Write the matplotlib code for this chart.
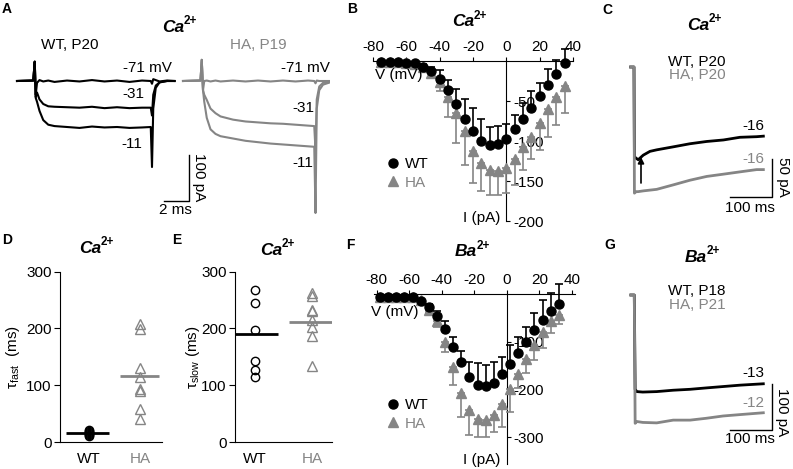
import matplotlib
matplotlib.use('Agg')
import matplotlib.pyplot as plt
from matplotlib.lines import Line2D
import numpy as np

plt.rcParams['font.family'] = ['Liberation Sans', 'DejaVu Sans']
plt.rcParams['axes.unicode_minus'] = False
plt.rcParams['mathtext.fontset'] = 'custom'
plt.rcParams['mathtext.rm'] = 'Liberation Sans'
plt.rcParams['mathtext.it'] = 'Liberation Sans:italic'
plt.rcParams['mathtext.bf'] = 'Liberation Sans:bold'

# ---------------- data ----------------
# Panel A: example Ca2+ current traces (ms, pA)
a_wt_t = [0, 1.3, 1.42, 1.5, 1.6, 1.8, 2.1, 2.5, 3.0, 4, 5, 6, 7, 8, 9, 10, 10.7, 10.8, 10.9, 11.1, 11.4, 12, 12.6]
a_wt_m71 = [0, 1, 42, -30, -4, 2, -1, 1, -2, 1, -1, 2, -1, 1, -2, 1, 0, -6, 4, 2, -1, 1, 0]
a_wt_m31 = [0, 1, 42, -35, -25, -40, -50, -55, -56, -57, -58, -56, -59, -57, -59, -58, -58, -75, -30, -10, -3, 0, 0]
a_wt_m11 = [0, 1, 42, -37, -45, -65, -85, -95, -98, -100, -102, -99, -101, -100, -102, -101, -100, -187, -60, -15, -3, 0, 0]
a_ha_t = [0, 1.4, 1.5, 1.6, 1.7, 1.9, 2.2, 2.6, 3.0, 4, 5, 6, 7, 8, 9, 10, 10.5, 10.6, 10.7, 10.9, 11.2, 11.76]
a_ha_m71 = [0, 1, 46, -20, 0, 1, -1, 1, -1, 1, -1, 1, -1, 1, -1, 1, 0, -5, 1, 0, 0, 0]
a_ha_m31 = [0, 1, 46, -20, -30, -41, -60, -70, -77, -84, -88, -90, -92, -93, -95, -97, -98, -150, -40, -12, -4, -2]
a_ha_m11 = [0, 1, 46, -20, -45, -80, -105, -115, -120, -125, -130, -133, -136, -138, -140, -142, -143, -287, -60, -20, -8, -3]

# Panel B: Ca2+ I-V
iv_ca_v = [-75, -70, -65, -60, -55, -50, -45, -40, -35, -30, -25, -20, -15, -10, -5, 0, 5, 10, 15, 20, 25, 30, 35]
iv_ca_wt = [-1, -1, -1, -2, -3, -7, -13, -22, -36, -54, -72, -87, -100, -105, -104, -98, -85, -72, -59, -44, -30, -16, -3]
iv_ca_wt_err = [0, 0, 0, 1, 2, 3, 6, 11, 12, 19, 24, 28, 27, 22, 23, 19, 18, 19, 21, 17, 20, 17, 18]
iv_ca_ha = [-1, -1, -1, -2, -4, -8, -15, -26, -45, -65, -88, -113, -128, -136, -138, -134, -122, -107, -95, -77, -60, -45, -31]
iv_ca_ha_err = [0, 0, 0, 1, 2, 3, 5, 11, 25, 38, 42, 40, 35, 32, 30, 31, 33, 29, 27, 34, 35, 35, 34]

# Panel C: long Ca2+ traces (ms, pA)
c_t = [-8, 0, 1, 5, 10, 22, 38, 54, 94, 133, 173, 213, 252, 292, 308]
c_wt = [0, 0, -118, -120, -122, -116, -111, -109, -105, -101, -98, -96, -92.5, -91.7, -91]
c_ha = [0, 0, -166, -164, -164, -163, -162, -161, -155, -149, -144, -141, -138, -135, -135]

# Panels D, E: time constants (ms)
groups = ['WT', 'HA']
tau_fast_wt = [11, 13, 14, 16, 18, 20, 22]
tau_fast_ha = [207, 199, 130, 114, 93, 89, 59, 40]
tau_fast_mean = [16, 116]
tau_slow_wt = [268, 244, 197, 143, 127, 115]
tau_slow_ha = [263, 257, 233, 230, 215, 203, 187, 134]
tau_slow_mean = [191, 212]

# Panel F: Ba2+ I-V
iv_ba_v = [-78, -73, -68, -63, -58, -53, -48, -43, -38, -33, -28, -23, -18, -13, -8, -3, 2, 7, 12, 17, 22, 27, 32]
iv_ba_wt = [-6, -6, -6, -6, -6, -14, -26, -45, -73, -110, -143, -173, -190, -192, -185, -168, -146, -124, -99, -75, -54, -36, -20]
iv_ba_wt_err = [0, 0, 0, 0, 0, 2, 5, 10, 16, 21, 25, 30, 45, 44, 42, 37, 40, 34, 31, 36, 42, 39, 42]
iv_ba_ha = [-6, -6, -6, -6, -6, -12, -33, -55, -99, -152, -206, -243, -262, -264, -253, -229, -199, -168, -136, -106, -80, -55, -43]
iv_ba_ha_err = [0, 0, 0, 0, 0, 2, 4, 13, 23, 38, 51, 52, 37, 35, 35, 49, 47, 29, 30, 32, 33, 27, 19]

# Panel G: long Ba2+ traces (ms, pA)
g_t = [-8, 0, 2, 6, 20, 53, 92, 132, 170, 210, 250, 305]
g_wt = [0, 0, -205, -210, -211, -210, -207, -205, -202, -199, -196, -193]
g_ha = [0, 0, -279, -275, -277, -278, -272, -272, -268, -263, -260, -256]

# ---------------- figure ----------------
W, H = 793, 469
GRAY = '#858585'
FS = 11
TFS = 12.5
fig = plt.figure(figsize=(W / 100, H / 100), dpi=100)


def px_axes(x0, y0, x1, y1):
    return fig.add_axes([x0 / W, 1 - y1 / H, (x1 - x0) / W, (y1 - y0) / H])


def ftext(x, y, s, **kw):
    kw.setdefault('ha', 'center')
    kw.setdefault('va', 'center')
    kw.setdefault('fontsize', FS)
    return fig.text(x / W, 1 - y / H, s, **kw)


def ion_title(x, y, ion):
    ftext(x + 4, y, ion, ha='right', fontsize=TFS, fontweight='bold', style='italic')
    ftext(x + 4, y - 6, '2+', ha='left', fontsize=8.5, fontweight='bold')


def trace_axes(x0, y0, x1, y1, t0px, ppms, i0px, pppa):
    ax = px_axes(x0, y0, x1, y1)
    ax.set_xlim((x0 - t0px) / ppms, (x1 - t0px) / ppms)
    ax.set_ylim((i0px - y1) / pppa, (i0px - y0) / pppa)
    ax.axis('off')
    return ax


# panel letters
for s, (x, y) in {'A': (7, 9), 'B': (352, 9), 'C': (607, 10), 'D': (7, 240),
                  'E': (177, 240), 'F': (350, 245), 'G': (610, 245)}.items():
    ftext(x, y, s, fontweight='bold', fontsize=10)

# ---------- Panel A ----------
axA = trace_axes(0, 50, 330, 222, 17, 12.5, 81, 0.46)
HA_OFFSET = (183 - 17) / 12.5
for tr in (a_wt_m71, a_wt_m31, a_wt_m11):
    axA.plot(a_wt_t, tr, color='k', lw=1.5)
for tr in (a_ha_m71, a_ha_m31, a_ha_m11):
    axA.plot(np.array(a_ha_t) + HA_OFFSET, tr, color=GRAY, lw=1.5)
sx = (189 - 17) / 12.5
sy = (81 - 201) / 0.46
axA.plot([sx - 2, sx, sx], [sy, sy, sy + 100], color='k', lw=1)
ion_title(180, 27, 'Ca')
ftext(70, 45, 'WT, P20')
ftext(258, 45, 'HA, P19', color=GRAY)
ftext(147, 68, '-71 mV')
ftext(133, 94, '-31')
ftext(132, 144, '-11')
ftext(305, 68, '-71 mV')
ftext(303, 108, '-31')
ftext(303, 163, '-11')
ftext(199, 177, '100 pA', rotation=-90)
ftext(175, 210, '2 ms')


# ---------- I-V panels ----------
def iv_panel(box, xlim, ylim, yticks, v, wt, wterr, ha, haerr, ion, tpos, vpos, ipos, legpos):
    ax = px_axes(*box)
    ax.set_xlim(*xlim)
    ax.set_ylim(*ylim)
    ax.spines['left'].set_visible(False)
    ax.spines['bottom'].set_visible(False)
    ax.spines['right'].set_position(('data', 0))
    ax.xaxis.tick_top()
    ax.yaxis.tick_right()
    ax.set_xticks([-80, -60, -40, -20, 0, 20, 40])
    ax.set_yticks(yticks)
    ax.tick_params(direction='out', length=3, labelsize=FS, pad=2)
    ax.tick_params(axis='x', pad=2)
    ax.patch.set_alpha(0)
    z = np.zeros(len(v))
    c1 = ax.errorbar(v, ha, yerr=[haerr, z], fmt='^', color=GRAY, ms=7, capsize=3,
                     elinewidth=1.2, capthick=1.2, zorder=5)
    c2 = ax.errorbar(v, wt, yerr=[z, wterr], fmt='o', color='k', ms=6.5, capsize=3,
                     elinewidth=1.2, capthick=1.2, zorder=6)
    for c in (c1, c2):
        for a in c.get_children():
            a.set_clip_on(False)
    ion_title(tpos[0], tpos[1], ion)
    ftext(*vpos, 'V (mV)')
    ftext(*ipos, 'I (pA)')
    handles = [Line2D([], [], marker='o', color='k', ls='none', ms=6.5),
               Line2D([], [], marker='^', color=GRAY, ls='none', ms=7)]
    ax.legend(handles, groups, frameon=False, loc='upper left',
              bbox_to_anchor=(legpos[0] / W, 1 - legpos[1] / H), bbox_transform=fig.transFigure,
              handletextpad=0.3, labelspacing=0.3, fontsize=FS, labelcolor=['k', GRAY],
              handlelength=1.0, borderpad=0, borderaxespad=0)
    return ax


iv_panel((373, 61, 573, 221), (-80, 40), (-200, 0), [-200, -150, -100, -50],
         iv_ca_v, iv_ca_wt, iv_ca_wt_err, iv_ca_ha, iv_ca_ha_err,
         'Ca', (470, 22), (399, 75), (482, 218), (385, 157))
iv_panel((373.5, 294.3, 575, 463.6), (-82, 42), (-355, 0), [-300, -200, -100],
         iv_ba_v, iv_ba_wt, iv_ba_wt_err, iv_ba_ha, iv_ba_ha_err,
         'Ba', (473, 252), (395, 312), (482, 460), (385, 398))

# ---------- Panel C ----------
axC = trace_axes(600, 50, 793, 215, 634, 0.42, 67, 0.76)
axC.plot(c_t, c_wt, color='k', lw=2)
axC.plot(c_t, c_ha, color=GRAY, lw=2)
axC.annotate('', xy=((641 - 634) / 0.42, (67 - 157) / 0.76), xytext=((641 - 634) / 0.42, (67 - 183) / 0.76),
             arrowprops=dict(arrowstyle='-|>', color='k', lw=1.2, mutation_scale=9, shrinkA=0, shrinkB=0))
sx = (772 - 634) / 0.42
sy = (67 - 197) / 0.76
axC.plot([sx - 100, sx, sx], [sy, sy, sy + 50], color='k', lw=1)
ion_title(705, 25, 'Ca')
ftext(697, 62, 'WT, P20')
ftext(697, 75, 'HA, P20', color=GRAY)
ftext(753, 126, '-16')
ftext(753, 159, '-16', color=GRAY)
ftext(783, 177, '50 pA', rotation=-90)
ftext(750, 208, '100 ms')


# ---------- Panels D, E ----------
def scatter_panel(box, xlim, wt, ha, means, ylabel, ylpos, tpos):
    ax = px_axes(*box)
    ax.set_xlim(*xlim)
    ax.set_ylim(0, 300)
    ax.spines['top'].set_visible(False)
    ax.spines['right'].set_visible(False)
    ax.set_yticks([0, 100, 200, 300])
    ax.set_xticks([0, 1])
    ax.set_xticklabels(groups)
    ax.get_xticklabels()[1].set_color(GRAY)
    ax.tick_params(axis='y', direction='out', length=4, labelsize=FS, pad=2)
    ax.tick_params(axis='x', length=0, labelsize=FS, pad=7)
    ax.plot(np.zeros(len(wt)), wt, ls='none', marker='o', mfc='none', mec='k', ms=6, mew=1)
    ax.plot(np.ones(len(ha)), ha, ls='none', marker='^', mfc='none', mec=GRAY, ms=7, mew=1)
    ax.hlines(means[0], -0.45, 0.4, color='k', lw=2)
    ax.hlines(means[1], 0.6, 1.38, color=GRAY, lw=2)
    ftext(*ylpos, ylabel, rotation=90)
    ion_title(tpos[0], tpos[1], 'Ca')
    return ax


scatter_panel((60, 271.7, 162, 442), (-0.57, 1.43), tau_fast_wt, tau_fast_ha, tau_fast_mean,
              r'τ$_{\rm fast}$  (ms)', (13, 357), (97, 248))
scatter_panel((235, 271.7, 332, 442), (-0.35, 1.35), tau_slow_wt, tau_slow_ha, tau_slow_mean,
              r'τ$_{\rm slow}$ (ms)', (193, 357), (278, 250))

# ---------- Panel G ----------
axG = trace_axes(600, 280, 793, 469, 634.3, 0.423, 295, 0.46)
axG.plot(g_t, g_wt, color='k', lw=2)
axG.plot(g_t, g_ha, color=GRAY, lw=2)
sx = (772.3 - 634.3) / 0.423
sy = (295 - 430) / 0.46
axG.plot([sx - 100, sx, sx], [sy, sy, sy + 100], color='k', lw=1)
ion_title(703, 257, 'Ba')
ftext(697, 291, 'WT, P18')
ftext(697, 305, 'HA, P21', color=GRAY)
ftext(753, 373, '-13')
ftext(753, 403, '-12', color=GRAY)
ftext(782, 412, '100 pA', rotation=-90)
ftext(750, 439, '100 ms')

fig.savefig('out.png', dpi=100)
